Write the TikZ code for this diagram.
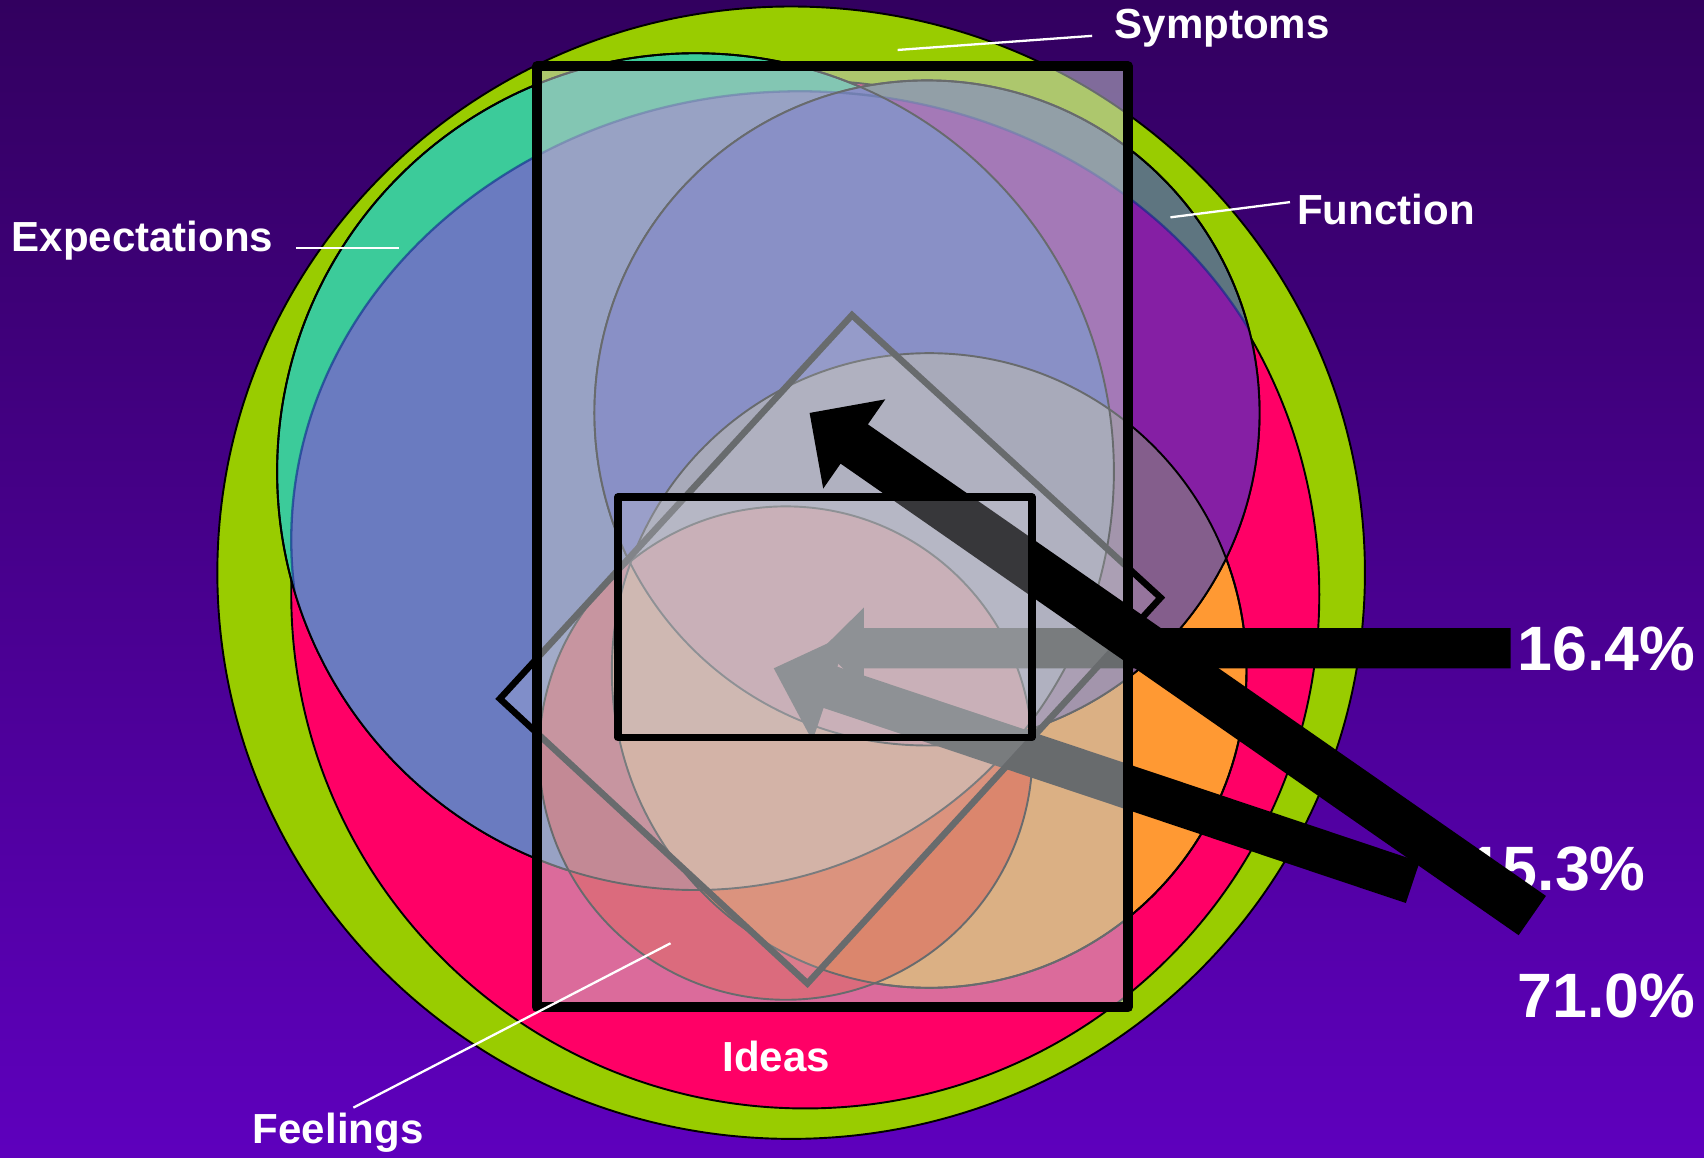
\documentclass[tikz,border=0pt]{standalone}
\usepackage{fontspec}
\setmainfont{Liberation Sans}
\usetikzlibrary{
    calc                              % ($(a)!d!90:(b)$) for the block arrows
}
\definecolor{bgtop}{RGB}{50,0,95}
\definecolor{bgbottom}{RGB}{94,0,189}
\definecolor{symptoms}{RGB}{153,204,0}
\definecolor{ideas}{RGB}{255,0,102}
\definecolor{core}{RGB}{255,153,51}
\definecolor{expect}{RGB}{60,203,154}
\definecolor{expectblue}{RGB}{106,123,192}
\definecolor{function}{RGB}{94,117,128}
\definecolor{functionblue}{RGB}{133,31,164}
\definecolor{functioncore}{RGB}{132,94,140}
\definecolor{expectfunction}{RGB}{74,82,196}
\definecolor{expectfunctioncore}{RGB}{143,140,171}
\definecolor{feel}{RGB}{255,0,35}
\definecolor{feelcore}{RGB}{255,60,0}
\definecolor{feelexpect}{RGB}{203,68,89}
\definecolor{feelexpectcore}{RGB}{236,144,107}
\definecolor{feelcenter}{RGB}{212,117,124}
\definecolor{veil}{RGB}{190,195,200}
\definecolor{innerveil}{RGB}{200,200,210}
\definecolor{shadeline}{RGB}{10,40,140}
\tikzset{
    ring/.style={
        fill=#1, draw=black, line width=0.5pt
    },
    outline/.style={
        draw=black, line width=0.5pt
    },
    blueline/.style={
        draw=shadeline, draw opacity=0.6, line width=0.6pt
    },
    kite/.style={
        draw=black, line width=1.7pt, fill=white, fill opacity=0.15
    },
    frame/.style={
        draw=black, line width=2.6pt, line join=round,
        fill=veil, fill opacity=0.55
    },
    inner frame/.style={
        draw=black, line width=2pt, line join=round,
        fill=innerveil, fill opacity=0.28
    },
    label/.style={
        text=white, inner sep=0pt,
        font=\fontsize{11}{13}\selectfont\bfseries
    },
    percent/.style={
        text=white, inner sep=0pt,
        font=\fontsize{16.4}{19}\selectfont\bfseries
    },
    leader/.style={
        draw=white, line width=0.6pt
    }
}
% shapes of the chart (x and y in pixels of the slide)
\newcommand{\circSymptoms}{(728,527) ellipse [x radius=528, y radius=521]}
\newcommand{\circIdeas}{(741,547) circle [radius=473]}
\newcommand{\circCore}{(855,617) circle [radius=292]}
\newcommand{\circExpect}{(640,434) circle [radius=385]}
\newcommand{\circFunction}{(853,380) circle [radius=306]}
\newcommand{\ovalShade}{(736,497) ellipse [x radius=468, y radius=413]}
\newcommand{\circFeelings}{(723,693) circle [radius=227]}
% style, tail, tip, half shaft, head length, half head
\newcommand{\blockarrow}[6]{%
    \coordinate (arrowbase) at ($(#3)!#5!(#2)$);
    \fill[#1] ($(#2)!#4!90:(#3)$) -- ($(arrowbase)!#4!90:(#3)$)
        -- ($(arrowbase)!#6!90:(#3)$) -- (#3)
        -- ($(arrowbase)!#6!-90:(#3)$) -- ($(arrowbase)!#4!-90:(#3)$)
        -- ($(#2)!#4!-90:(#3)$) -- cycle;
}
\begin{document}
\begin{tikzpicture}[x=0.01cm, y=-0.01cm]

    % --- Fondo ---
    \useasboundingbox (0,0) rectangle (1568,1065);
    \shade[top color=bgtop, bottom color=bgbottom] (0,0) rectangle (1568,1065);

    % --- Circles ---
    \path[ring=symptoms] \circSymptoms;
    \path[ring=ideas]    \circIdeas;
    \path[ring=core]     \circCore;
    \path[ring=expect]   \circExpect;
    \begin{scope}
        \clip \circExpect;
        \fill[expectblue] \ovalShade;
    \end{scope}
    \path[ring=function] \circFunction;
    \begin{scope}
        \clip \circFunction;
        \fill[functionblue] \ovalShade;
        \fill[functioncore] \circCore;
    \end{scope}
    \begin{scope}
        \clip \circExpect;
        \clip \circFunction;
        \fill[expectfunction] \circFunction;
        \fill[expectfunctioncore] \circCore;
    \end{scope}
    \begin{scope}
        \clip \circExpect;
        \path[blueline] \ovalShade;
    \end{scope}
    \begin{scope}
        \clip \circFunction;
        \path[blueline] \ovalShade;
    \end{scope}

    % --- Feelings ---
    \begin{scope}
        \clip \circFeelings;
        \fill[feel] \circFeelings;
        \fill[feelcore] \circCore;
        \fill[feelexpect] \circExpect;
        \clip \circExpect;
        \fill[feelexpectcore] \circCore;
        \clip \circFunction;
        \fill[feelcenter] \circCore;
    \end{scope}
    \foreach \shape in {\circCore, \circExpect, \circFunction, \circFeelings}
        \path[outline] \shape;

    % --- Flechas bajo el marco ---
    \coordinate (flat tail) at (1390,596.5);
    \coordinate (flat tip)  at (757,596.5);
    \coordinate (low tail)  at (1300,812);
    \coordinate (low tip)   at (712,615);
    \blockarrow{black}{flat tail}{flat tip}{1.85mm}{3.8mm}{3.75mm}
    \blockarrow{black}{low tail}{low tip}{2mm}{5.5mm}{5.2mm}

    % --- Rombo y marco ---
    \draw[kite] (784,290) -- (1068,550) -- (743,905) -- (460,643) -- cycle;
    \draw[frame] (494,61) rectangle (1038,927);

    % --- Etiquetas ---
    \node[label, anchor=base west] (symptoms)     at (1025,35)  {Symptoms};
    \node[label, anchor=base west] (function)     at (1193,207) {Function};
    \node[label, anchor=base west] (expectations) at (10,231)   {Expectations};
    \node[label, anchor=base west] (feelings)     at (232,1052) {Feelings};
    \node[label, anchor=base west] (ideas)        at (664,986)  {Ideas};
    \node[percent, anchor=base west] (p164) at (1396,617) {16.4\%};
    \node[percent, anchor=base east] (p153) at (1515,819) {15.3\%};
    \node[percent, anchor=base west] (p710) at (1396,936) {71.0\%};

    % --- Flecha negra ---
    \coordinate (high tail) at (1410,842.5);
    \coordinate (high tip)  at (745,380);
    \blockarrow{black}{high tail}{high tip}{2.2mm}{5mm}{5mm}

    % --- Marco interior ---
    \draw[inner frame] (568.5,457.5) rectangle (949.5,678.5);

    % --- Lineas de referencia ---
    \coordinate (symptoms pin)     at (826,46);
    \coordinate (function pin)     at (1077,200);
    \coordinate (expectations pin) at (367,228);
    \coordinate (feelings pin)     at (617,868);
    \draw[leader] ($(symptoms.base west)+(-20,-2)$) -- (symptoms pin);
    \draw[leader] ($(function.base west)+(-6,-21)$) -- (function pin);
    \draw[leader] ($(expectations.base east)+(20,-3)$) -- (expectations pin);
    \draw[leader] ($(feelings.north)+(14,-4)$) -- (feelings pin);

\end{tikzpicture}
\end{document}
